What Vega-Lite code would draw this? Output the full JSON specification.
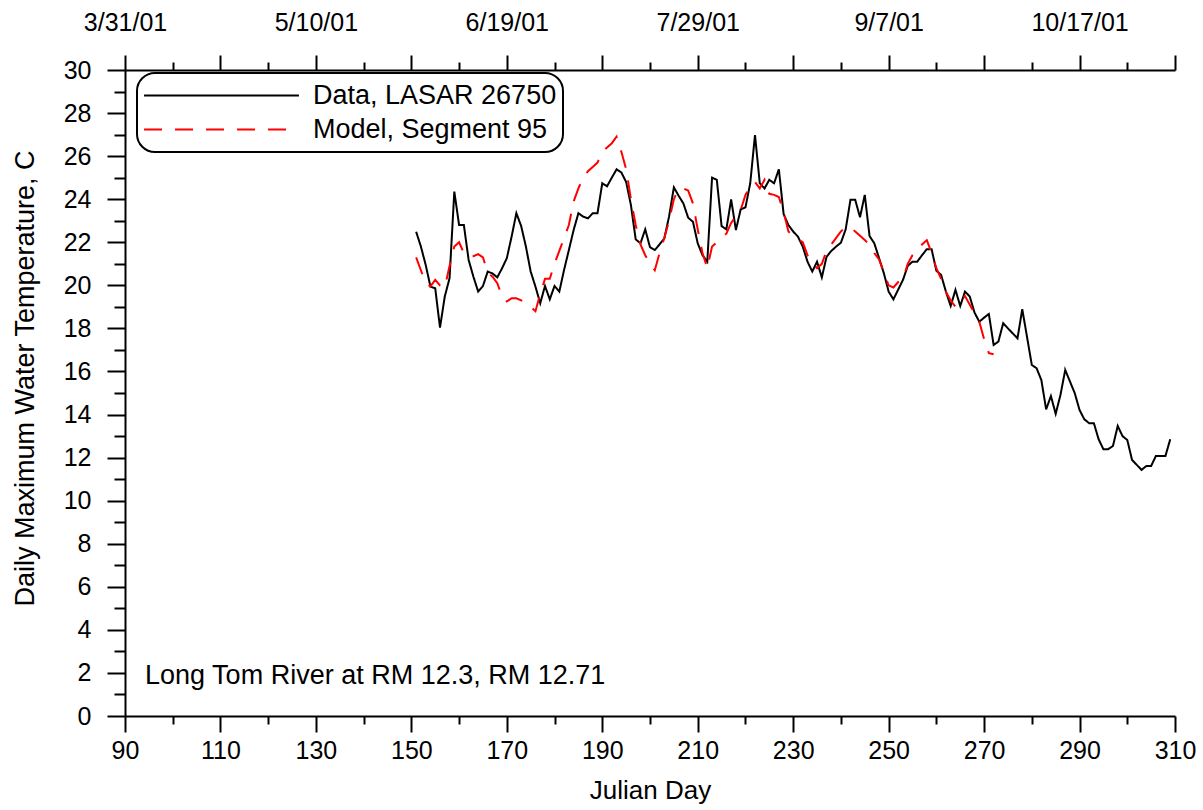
{
  "$schema": "https://vega.github.io/schema/vega-lite/v6.json",
  "width": 1050,
  "height": 646,
  "autosize": {"type": "none"},
  "padding": {"left": 125, "top": 70, "right": 28, "bottom": 94},
  "background": "white",
  "config": {
    "font": "Liberation Sans",
    "view": {"stroke": null},
    "axis": {
      "domainColor": "black", "domainWidth": 2, "tickColor": "black", "tickWidth": 2,
      "labelColor": "black", "labelFont": "Liberation Sans", "labelFontSize": 25,
      "titleColor": "black", "titleFont": "Liberation Sans", "titleFontSize": 26, "titleFontWeight": "normal",
      "grid": false
    },
    "legend": {
      "orient": "none", "legendX": 12, "legendY": 3,
      "strokeColor": "black", "strokeWidth": 2, "cornerRadius": 18, "padding": 6,
      "fillColor": "white",
      "symbolType": "stroke", "symbolSize": 24000, "symbolStrokeWidth": 2,
      "clipHeight": 33, "rowPadding": 1,
      "labelFont": "Liberation Sans", "labelFontSize": 27, "labelColor": "black", "labelOffset": 13,
      "labelLimit": 400
    }
  },
  "layer": [
    {
      "data": {
        "values": [
          {"day":151,"obs":22.49,"mod":21.3},{"day":152,"obs":21.8,"mod":20.7},{"day":153,"obs":20.95,"mod":20.1},
          {"day":154,"obs":19.94,"mod":19.95},{"day":155,"obs":19.86,"mod":20.25},{"day":156,"obs":18.04,"mod":20.0},
          {"day":157,"obs":19.48,"mod":19.9},{"day":158,"obs":20.33,"mod":20.9},{"day":159,"obs":24.35,"mod":21.8},
          {"day":160,"obs":22.8,"mod":22.0},{"day":161,"obs":22.8,"mod":21.5},{"day":162,"obs":21.18,"mod":21.33},
          {"day":163,"obs":20.4,"mod":21.35},{"day":164,"obs":19.71,"mod":21.45},{"day":165,"obs":19.97,"mod":21.3},
          {"day":166,"obs":20.64,"mod":20.6},{"day":167,"obs":20.55,"mod":20.4},{"day":168,"obs":20.37,"mod":20.1},
          {"day":169,"obs":20.79,"mod":19.5},{"day":170,"obs":21.26,"mod":19.25},{"day":171,"obs":22.26,"mod":19.4},
          {"day":172,"obs":23.35,"mod":19.4},{"day":173,"obs":22.76,"mod":19.3},{"day":174,"obs":21.8,"mod":19.2},
          {"day":175,"obs":20.64,"mod":19.0},{"day":176,"obs":19.94,"mod":18.8},{"day":177,"obs":19.17,"mod":19.6},
          {"day":178,"obs":19.97,"mod":20.3},{"day":179,"obs":19.35,"mod":20.3},{"day":180,"obs":19.97,"mod":21.0},
          {"day":181,"obs":19.71,"mod":21.6},{"day":182,"obs":20.72,"mod":22.2},{"day":183,"obs":21.64,"mod":22.8},
          {"day":184,"obs":22.57,"mod":23.9},{"day":185,"obs":23.35,"mod":24.5},{"day":186,"obs":23.19,"mod":25.0},
          {"day":187,"obs":23.11,"mod":25.3},{"day":188,"obs":23.35,"mod":25.5},{"day":189,"obs":23.35,"mod":25.7},
          {"day":190,"obs":24.74,"mod":26.2},{"day":191,"obs":24.6,"mod":26.4},{"day":192,"obs":25.0,"mod":26.6},
          {"day":193,"obs":25.39,"mod":26.9},{"day":194,"obs":25.24,"mod":26.2},{"day":195,"obs":24.8,"mod":25.4},
          {"day":196,"obs":23.73,"mod":24.0},{"day":197,"obs":22.14,"mod":22.8},{"day":198,"obs":21.95,"mod":21.9},
          {"day":199,"obs":22.6,"mod":21.4},{"day":200,"obs":21.77,"mod":21.0},{"day":201,"obs":21.64,"mod":20.7},
          {"day":202,"obs":21.9,"mod":21.5},{"day":203,"obs":22.18,"mod":22.2},{"day":204,"obs":23.2,"mod":23.0},
          {"day":205,"obs":24.55,"mod":24.0},{"day":206,"obs":24.16,"mod":24.5},{"day":207,"obs":23.8,"mod":24.5},
          {"day":208,"obs":23.14,"mod":24.4},{"day":209,"obs":22.95,"mod":23.8},{"day":210,"obs":21.95,"mod":22.6},
          {"day":211,"obs":21.4,"mod":21.5},{"day":212,"obs":21.1,"mod":20.8},{"day":213,"obs":25.0,"mod":21.8},
          {"day":214,"obs":24.9,"mod":22.0},{"day":215,"obs":22.75,"mod":22.2},{"day":216,"obs":22.6,"mod":22.4},
          {"day":217,"obs":23.99,"mod":22.9},{"day":218,"obs":22.57,"mod":23.2},{"day":219,"obs":23.53,"mod":23.5},
          {"day":220,"obs":23.62,"mod":24.2},{"day":221,"obs":24.74,"mod":24.6},{"day":222,"obs":26.98,"mod":24.8},
          {"day":223,"obs":24.74,"mod":24.5},{"day":224,"obs":24.5,"mod":24.9},{"day":225,"obs":24.9,"mod":24.25},
          {"day":226,"obs":24.74,"mod":24.2},{"day":227,"obs":25.39,"mod":24.1},{"day":228,"obs":23.31,"mod":23.4},
          {"day":229,"obs":22.8,"mod":22.5},{"day":230,"obs":22.5,"mod":22.3},{"day":231,"obs":22.26,"mod":22.15},
          {"day":232,"obs":21.8,"mod":22.0},{"day":233,"obs":21.1,"mod":21.4},{"day":234,"obs":20.64,"mod":21.0},
          {"day":235,"obs":21.1,"mod":20.8},{"day":236,"obs":20.37,"mod":21.0},{"day":237,"obs":21.33,"mod":21.6},
          {"day":238,"obs":21.6,"mod":21.9},{"day":239,"obs":21.8,"mod":22.2},{"day":240,"obs":21.98,"mod":22.5},
          {"day":241,"obs":22.6,"mod":22.7},{"day":242,"obs":23.97,"mod":22.7},{"day":243,"obs":23.97,"mod":22.5},
          {"day":244,"obs":23.16,"mod":22.3},{"day":245,"obs":24.2,"mod":22.1},{"day":246,"obs":22.29,"mod":21.9},
          {"day":247,"obs":21.95,"mod":21.5},{"day":248,"obs":21.26,"mod":21.2},{"day":249,"obs":20.56,"mod":20.6},
          {"day":250,"obs":19.71,"mod":20.0},{"day":251,"obs":19.35,"mod":19.9},{"day":252,"obs":19.8,"mod":20.15},
          {"day":253,"obs":20.25,"mod":20.3},{"day":254,"obs":20.9,"mod":21.0},{"day":255,"obs":21.1,"mod":21.4},
          {"day":256,"obs":21.1,"mod":21.6},{"day":257,"obs":21.4,"mod":21.9},{"day":258,"obs":21.68,"mod":22.1},
          {"day":259,"obs":21.68,"mod":21.5},{"day":260,"obs":20.68,"mod":20.8},{"day":261,"obs":20.48,"mod":20.3},
          {"day":262,"obs":19.71,"mod":19.7},{"day":263,"obs":19.04,"mod":19.3},{"day":264,"obs":19.79,"mod":19.0},
          {"day":265,"obs":19.04,"mod":19.3},{"day":266,"obs":19.71,"mod":19.5},{"day":267,"obs":19.48,"mod":19.1},
          {"day":268,"obs":18.73,"mod":18.7},{"day":269,"obs":18.31,"mod":18.3},{"day":270,"obs":18.5,"mod":17.5},
          {"day":271,"obs":18.67,"mod":16.85},{"day":272,"obs":17.23,"mod":16.8},{"day":273,"obs":17.39,"mod":null},
          {"day":274,"obs":18.24,"mod":null},{"day":275,"obs":18.0,"mod":null},{"day":276,"obs":17.77,"mod":null},
          {"day":277,"obs":17.54,"mod":null},{"day":278,"obs":18.89,"mod":null},{"day":279,"obs":17.6,"mod":null},
          {"day":280,"obs":16.3,"mod":null},{"day":281,"obs":16.15,"mod":null},{"day":282,"obs":15.6,"mod":null},
          {"day":283,"obs":14.24,"mod":null},{"day":284,"obs":14.86,"mod":null},{"day":285,"obs":14.03,"mod":null},
          {"day":286,"obs":14.91,"mod":null},{"day":287,"obs":16.07,"mod":null},{"day":288,"obs":15.53,"mod":null},
          {"day":289,"obs":14.99,"mod":null},{"day":290,"obs":14.21,"mod":null},{"day":291,"obs":13.78,"mod":null},
          {"day":292,"obs":13.6,"mod":null},{"day":293,"obs":13.6,"mod":null},{"day":294,"obs":12.85,"mod":null},
          {"day":295,"obs":12.39,"mod":null},{"day":296,"obs":12.39,"mod":null},{"day":297,"obs":12.54,"mod":null},
          {"day":298,"obs":13.47,"mod":null},{"day":299,"obs":13.0,"mod":null},{"day":300,"obs":12.82,"mod":null},
          {"day":301,"obs":11.89,"mod":null},{"day":302,"obs":11.66,"mod":null},{"day":303,"obs":11.43,"mod":null},
          {"day":304,"obs":11.61,"mod":null},{"day":305,"obs":11.61,"mod":null},{"day":306,"obs":12.08,"mod":null},
          {"day":307,"obs":12.08,"mod":null},{"day":308,"obs":12.08,"mod":null},{"day":309,"obs":12.85,"mod":null}
        ]
      },
      "transform": [
        {"fold": ["obs", "mod"], "as": ["series", "temp"]},
        {"filter": "isValid(datum.temp)"}
      ],
      "mark": {"type": "line", "strokeWidth": 2, "interpolate": "linear"},
      "encoding": {
        "x": {
          "field": "day", "type": "quantitative",
          "scale": {"domain": [90, 310], "nice": false, "zero": false},
          "axis": {
            "orient": "bottom", "title": "Julian Day", "titlePadding": 14,
            "values": [90,100,110,120,130,140,150,160,170,180,190,200,210,220,230,240,250,260,270,280,290,300,310],
            "labelExpr": "(datum.value - 90) % 20 == 0 ? datum.label : ''",
            "tickSize": {"condition": {"test": "(datum.value - 90) % 20 != 0", "value": 8}, "value": 16},
            "labelPadding": 6, "labelFlush": false, "labelOverlap": false
          }
        },
        "y": {
          "field": "temp", "type": "quantitative",
          "scale": {"domain": [0, 30], "nice": false},
          "axis": {
            "title": "Daily Maximum Water Temperature, C", "titlePadding": 24, "titleFontSize": 27, "titleY": 308,
            "values": [0,1,2,3,4,5,6,7,8,9,10,11,12,13,14,15,16,17,18,19,20,21,22,23,24,25,26,27,28,29,30],
            "labelExpr": "datum.value % 2 == 0 ? datum.label : ''",
            "tickSize": {"condition": {"test": "datum.value % 2 != 0", "value": 11}, "value": 18},
            "labelPadding": 16, "labelFlush": false, "labelOverlap": false
          }
        },
        "color": {
          "field": "series", "type": "nominal",
          "scale": {"domain": ["obs", "mod"], "range": ["#000000", "#ff0000"]},
          "legend": {"title": null, "labelExpr": "datum.value == 'obs' ? 'Data, LASAR 26750' : 'Model, Segment 95'"}
        },
        "strokeDash": {
          "field": "series", "type": "nominal",
          "scale": {"domain": ["obs", "mod"], "range": [[1, 0], [18, 13]]},
          "legend": {"title": null, "labelExpr": "datum.value == 'obs' ? 'Data, LASAR 26750' : 'Model, Segment 95'"}
        }
      }
    },
    {
      "data": {"values": [{"note": "Long Tom River at RM 12.3, RM 12.71"}]},
      "mark": {"type": "text", "align": "left", "baseline": "middle", "fontSize": 27, "font": "Liberation Sans", "color": "black"},
      "encoding": {
        "text": {"field": "note", "type": "nominal"},
        "x": {
          "datum": 94.2, "type": "quantitative",
          "axis": {
            "orient": "top", "title": null,
            "values": [90,100,110,120,130,140,150,160,170,180,190,200,210,220,230,240,250,260,270,280,290,300,310],
            "labelExpr": "(datum.value - 90) % 40 == 0 ? timeFormat(datetime(2001, 0, datum.value), '%-m/%-d/%y') : ''",
            "tickSize": {"condition": {"test": "(datum.value - 90) % 20 != 0", "value": 8}, "value": 15},
            "labelPadding": 20, "labelFlush": false, "labelOverlap": false
          }
        },
        "y": {
          "datum": 1.86, "type": "quantitative",
          "axis": {
            "title": "Daily Maximum Water Temperature, C", "titlePadding": 24, "titleFontSize": 27, "titleY": 308,
            "values": [0,1,2,3,4,5,6,7,8,9,10,11,12,13,14,15,16,17,18,19,20,21,22,23,24,25,26,27,28,29,30],
            "labelExpr": "datum.value % 2 == 0 ? datum.label : ''",
            "tickSize": {"condition": {"test": "datum.value % 2 != 0", "value": 11}, "value": 18},
            "labelPadding": 16, "labelFlush": false, "labelOverlap": false
          }
        }
      }
    }
  ],
  "resolve": {"axis": {"x": "independent"}}
}
